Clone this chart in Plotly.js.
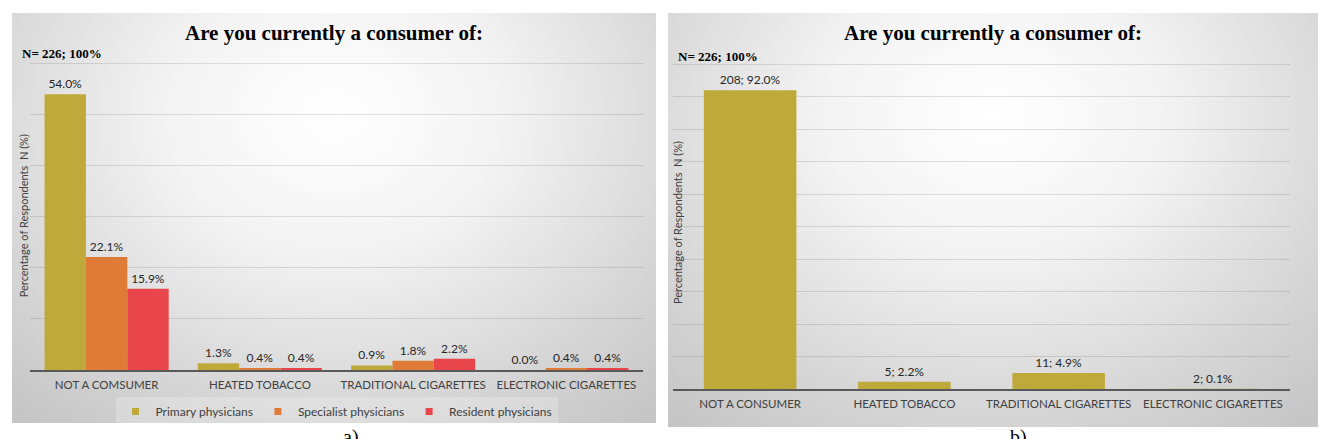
<!DOCTYPE html>
<html>
<head>
<meta charset="utf-8">
<script src="https://cdn.plot.ly/plotly-3.0.1.min.js"></script>
<style>
  html, body { margin: 0; padding: 0; width: 1328px; height: 439px; overflow: hidden; background: #fff; }
  .panel { position: absolute; background: radial-gradient(ellipse 75% 95% at 50% 25%, #ffffff 0%, #f3f3f3 35%, #d6d6d6 75%, #c6c6c6 100%); }
  #chart_a { left: 12px; top: 13px; width: 644px; height: 410px; }
  #chart_b { left: 668px; top: 13px; width: 650px; height: 414px; }
  .tag { position: absolute; top: 426px; font-family: 'Liberation Serif', serif; font-size: 20px; color: #000; }
</style>
</head>
<body>
<div id="chart_a" class="panel"></div>
<div id="chart_b" class="panel"></div>
<span class="tag" style="left:343px;">a)</span>
<span class="tag" style="left:1010px;">b)</span>
<script>
// panel a) data
const cats_a = ['NOT A COMSUMER', 'HEATED TOBACCO', 'TRADITIONAL CIGARETTES', 'ELECTRONIC CIGARETTES'];
const primary_pct = [54.0, 1.3, 0.9, 0.0];
const specialist_pct = [22.1, 0.4, 1.8, 0.4];
const resident_pct = [15.9, 0.4, 2.2, 0.4];
const series_names = ['Primary physicians', 'Specialist physicians', 'Resident physicians'];

// panel b) data
const cats_b = ['NOT A CONSUMER', 'HEATED TOBACCO', 'TRADITIONAL CIGARETTES', 'ELECTRONIC CIGARETTES'];
const total_n = [208, 5, 11, 2];
const total_pct = [92.0, 2.2, 4.9, 0.1];

const chart_title = 'Are you currently a consumer of:';
const n_label = 'N= 226; 100%';
const y_title = 'Percentage of Respondents  N (%)';

const colors = ['#BFA93B', '#DF7B36', '#E8464A'];
const sans = 'Lato, "Open Sans", sans-serif';
const serif = '"Liberation Serif", "Times New Roman", serif';

function baseLayout(range, margin) {
  margin.autoexpand = false;
  return {
    showlegend: false,
    paper_bgcolor: 'rgba(0,0,0,0)',
    plot_bgcolor: 'rgba(0,0,0,0)',
    margin: margin,
    font: { family: sans, size: 12, color: '#404040' },
    title: {
      text: '<b>' + chart_title + '</b>',
      font: { family: serif, size: 21, color: '#000' },
      x: 0.5,
      xref: 'container',
      yref: 'container',
      yanchor: 'middle',
    },
    xaxis: {
      type: 'category',
      showline: true,
      linecolor: '#595959',
      linewidth: 1.5,
      showgrid: false,
      ticks: 'outside',
      ticklen: 4,
      tickcolor: 'rgba(0,0,0,0)',
      tickfont: { family: sans, size: 11.5, color: '#404040' },
      automargin: false,
    },
    yaxis: {
      range: range,
      tick0: 0,
      dtick: 10,
      showticklabels: false,
      zeroline: false,
      showgrid: true,
      gridcolor: 'rgba(0,0,0,0.11)',
      gridwidth: 1,
      automargin: false,
    },
    bargroupgap: 0,
  };
}

// a) three groups of physicians
const data_a = [primary_pct, specialist_pct, resident_pct].map((vals, i) => ({
  type: 'bar',
  name: series_names[i],
  x: cats_a,
  y: vals,
  marker: { color: colors[i] },
  text: vals.map(v => v.toFixed(1) + '%'),
  textposition: 'outside',
  textfont: { family: sans, size: 12, color: '#262626' },
  cliponaxis: false,
  hoverinfo: 'skip',
  showlegend: false,
}));

// legend entries with small square swatches, like the original
series_names.forEach((name, i) => {
  data_a.push({
    type: 'scatter',
    mode: 'markers',
    name: name,
    x: [cats_a[0]],
    y: [null],
    marker: { color: colors[i], symbol: 'square', size: 7 },
    hoverinfo: 'skip',
    showlegend: true,
  });
});

const layout_a = baseLayout([0, 60.3], { l: 18, r: 13, t: 49, b: 53 });
layout_a.title.y = 0.951;
layout_a.barmode = 'group';
layout_a.bargap = 0.19;
layout_a.showlegend = true;
layout_a.legend = {
  orientation: 'h',
  x: 0.5,
  xanchor: 'center',
  y: -0.088,
  yanchor: 'top',
  bgcolor: 'rgba(255,255,255,0.22)',
  font: { family: sans, size: 12, color: '#404040' },
  itemwidth: 30,
  tracegroupgap: 0,
};
layout_a.annotations = [
  {
    text: '<b>' + n_label + '</b>', xref: 'paper', yref: 'paper', x: -0.016, y: 1.029,
    xanchor: 'left', yanchor: 'middle', showarrow: false,
    font: { family: serif, size: 13, color: '#000' },
  },
  {
    text: y_title, xref: 'paper', yref: 'paper', x: -0.011, y: 0.5, textangle: -90,
    xanchor: 'center', yanchor: 'middle', showarrow: false,
    font: { family: sans, size: 11, color: '#404040' },
  },
];

Plotly.newPlot('chart_a', data_a, layout_a, { staticPlot: true });

// b) all respondents
const data_b = [{
  type: 'bar',
  x: cats_b,
  y: total_pct,
  marker: { color: colors[0] },
  text: total_n.map((n, i) => n + '; ' + total_pct[i].toFixed(1) + '%'),
  textposition: 'outside',
  textfont: { family: sans, size: 12, color: '#262626' },
  cliponaxis: false,
  hoverinfo: 'skip',
}];

const layout_b = baseLayout([0, 100.4], { l: 5, r: 28, t: 50, b: 38 });
layout_b.title.y = 0.952;
layout_b.bargap = 0.4;
layout_b.annotations = [
  {
    text: '<b>' + n_label + '</b>', xref: 'paper', yref: 'paper', x: 0.005, y: 1.021,
    xanchor: 'left', yanchor: 'middle', showarrow: false,
    font: { family: serif, size: 13, color: '#000' },
  },
  {
    text: y_title, xref: 'paper', yref: 'paper', x: 0.0065, y: 0.509, textangle: -90,
    xanchor: 'center', yanchor: 'middle', showarrow: false,
    font: { family: sans, size: 11, color: '#404040' },
  },
];

Plotly.newPlot('chart_b', data_b, layout_b, { staticPlot: true });
</script>
</body>
</html>
